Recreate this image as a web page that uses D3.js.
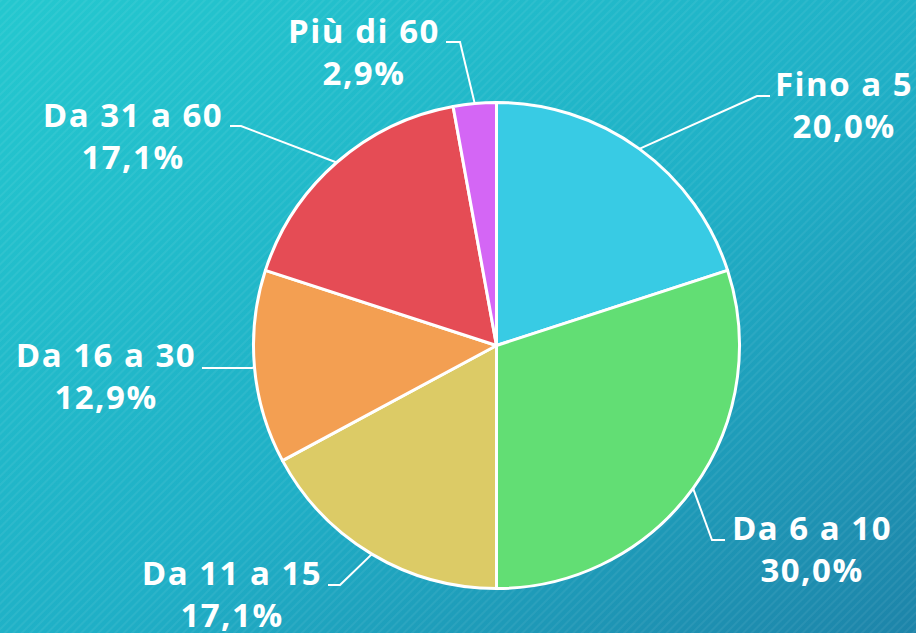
<!DOCTYPE html>
<html lang="it">
<head>
<meta charset="UTF-8">
<title>Torta</title>
<script src="https://d3js.org/d3.v7.min.js"></script>
<style>
  html, body { margin: 0; padding: 0; }
  svg { display: block; }
  .lbl { font-family: "Open Sans", sans-serif; font-weight: 700; font-size: 33px; fill: #fff; letter-spacing: 1.5px; }
</style>
</head>
<body>
<svg width="916" height="633"></svg>
<script>
  // data
  const categories = ["Fino a 5", "Da 6 a 10", "Da 11 a 15", "Da 16 a 30", "Da 31 a 60", "Più di 60"];
  const counts = [14, 21, 12, 9, 12, 2];
  const percentLabels = ["20,0%", "30,0%", "17,1%", "12,9%", "17,1%", "2,9%"];
  const colors = ["#38cbe4", "#62de74", "#dccb66", "#f39f52", "#e54c55", "#d466f5"];

  // label layout: elbow point, end of horizontal segment, text centre, baseline
  const labelLayout = [
    { ex: 757, ey: 96, hx: 770, tx: 844, ty: 96 },
    { ex: 712, ey: 540, hx: 725, tx: 812, ty: 540 },
    { ex: 340, ey: 585, hx: 328, tx: 232, ty: 585 },
    { ex: 252, ey: 368, hx: 202, tx: 106, ty: 367 },
    { ex: 241, ey: 126, hx: 230, tx: 133, ty: 127 },
    { ex: 460, ey: 42, hx: 446, tx: 364, ty: 43 }
  ];

  const width = 916, height = 633;
  const cx = 496.5, cy = 345.5, r = 243;
  const svg = d3.select("svg");

  // background
  const defs = svg.append("defs");
  const grad = defs.append("linearGradient").attr("id", "bg")
    .attr("x1", 0).attr("y1", 0).attr("x2", 1).attr("y2", 1);
  grad.append("stop").attr("offset", "0%").attr("stop-color", "#24c8cf");
  grad.append("stop").attr("offset", "55%").attr("stop-color", "#1fafc6");
  grad.append("stop").attr("offset", "100%").attr("stop-color", "#1d84a9");
  const pat = defs.append("pattern").attr("id", "stripes")
    .attr("width", 6).attr("height", 6)
    .attr("patternUnits", "userSpaceOnUse")
    .attr("patternTransform", "rotate(45)");
  pat.append("rect").attr("width", 2).attr("height", 6).attr("fill", "#ffffff").attr("opacity", 0.06);

  svg.append("rect").attr("width", width).attr("height", height).attr("fill", "url(#bg)");
  svg.append("rect").attr("width", width).attr("height", height).attr("fill", "url(#stripes)");

  const pie = d3.pie().sort(null).value(d => d);
  const arcs = pie(counts);
  const arc = d3.arc().innerRadius(0).outerRadius(r);

  const g = svg.append("g").attr("transform", `translate(${cx},${cy})`);
  g.selectAll("path.slice")
    .data(arcs)
    .join("path")
    .attr("class", "slice")
    .attr("d", arc)
    .attr("fill", (d, i) => colors[i])
    .attr("stroke", "#fff")
    .attr("stroke-width", 3)
    .attr("stroke-linejoin", "round");

  // leader lines
  arcs.forEach((d, i) => {
    const mid = (d.startAngle + d.endAngle) / 2;
    const px = cx + r * Math.sin(mid);
    const py = cy - r * Math.cos(mid);
    const L = labelLayout[i];
    svg.append("polyline")
      .attr("points", [[px, py], [L.ex, L.ey], [L.hx, L.ey]].map(p => p.join(",")).join(" "))
      .attr("fill", "none")
      .attr("stroke", "#fff")
      .attr("stroke-width", 2);

    const t = svg.append("text").attr("class", "lbl").attr("text-anchor", "middle");
    t.append("tspan").attr("x", L.tx).attr("y", L.ty).text(categories[i]);
    t.append("tspan").attr("x", L.tx).attr("y", L.ty + 42).text(percentLabels[i]);
  });
</script>
</body>
</html>
